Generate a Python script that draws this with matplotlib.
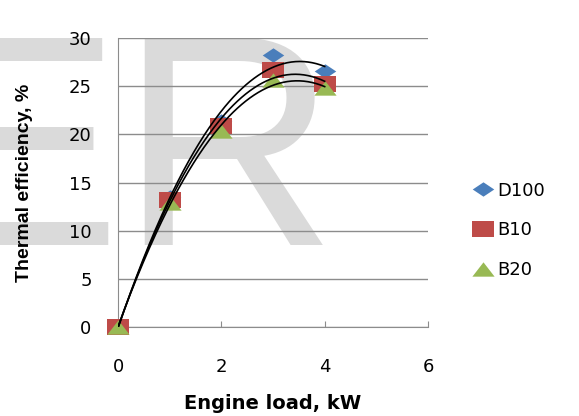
import numpy as np
import matplotlib.pyplot as plt

# Engine load (kW) and thermal efficiency (%) for each fuel
load = [0, 1, 2, 3, 4]
d100 = [0, 13.5, 21.4, 28.2, 26.6]
b10 = [0, 13.2, 20.9, 26.7, 25.2]
b20 = [0, 12.9, 20.4, 25.6, 24.8]
series_names = ['D100', 'B10', 'B20']

fig = plt.figure(figsize=(5.79, 4.16), dpi=100)
ax = fig.add_axes([0.2038, 0.2139, 0.5354, 0.6947])
ax.patch.set_facecolor('none')

# light watermark behind everything
fig.text(-80 / 579, 0.411, 'ER', ha='left', va='baseline', fontsize=216,
         family='Liberation Sans', color='#dadada', zorder=-1)

# wide markers
diamond = [(-1.5, 0), (0, 1), (1.5, 0), (0, -1), (-1.5, 0)]
square = [(-1.35, -1), (1.35, -1), (1.35, 1), (-1.35, 1), (-1.35, -1)]
triangle = [(-1.55, -1), (1.55, -1), (0, 1), (-1.55, -1)]

styles = [(d100, diamond, '#4a7ebb', 15.5),
          (b10, square, '#be4b48', 16.5),
          (b20, triangle, '#98b954', 16)]

for (vals, mk, col, ms), name in zip(styles, series_names):
    ax.plot(load, vals, linestyle='none', marker=mk, color=col,
            markersize=ms, markeredgewidth=0, label=name, zorder=3,
            clip_on=False)

# second order trendlines
xs = np.linspace(0, 4, 200)
for vals, _, _, _ in styles:
    coef = np.polyfit(load, vals, 2)
    ax.plot(xs, np.polyval(coef, xs), color='black', lw=1.2, zorder=4)

ax.set_xlim(0, 6)
ax.set_ylim(0, 30)
ax.set_xticks([0, 2, 4, 6])
ax.set_yticks(range(0, 31, 5))
ax.grid(axis='y', color='#8c8c8c', lw=1)
ax.set_axisbelow(True)
for s in ['top', 'right']:
    ax.spines[s].set_visible(False)
for s in ['left', 'bottom']:
    ax.spines[s].set_color('#8c8c8c')
ax.tick_params(axis='x', direction='in', length=4, color='#8c8c8c', pad=22,
               labelsize=13)
ax.tick_params(axis='y', length=0, pad=19, labelsize=13)

ax.set_xlabel('Engine load, kW', fontsize=14, fontweight='bold', labelpad=13)
ax.set_ylabel('Thermal efficiency, %', fontsize=14, fontweight='bold',
              family='Liberation Sans', labelpad=26)

ax.legend(loc='center left', bbox_to_anchor=(1.12, 0.335), frameon=False,
          fontsize=13, handletextpad=0.2, labelspacing=1.2, handlelength=1.2,
          borderaxespad=0)

fig.savefig('out.png', dpi=100)
